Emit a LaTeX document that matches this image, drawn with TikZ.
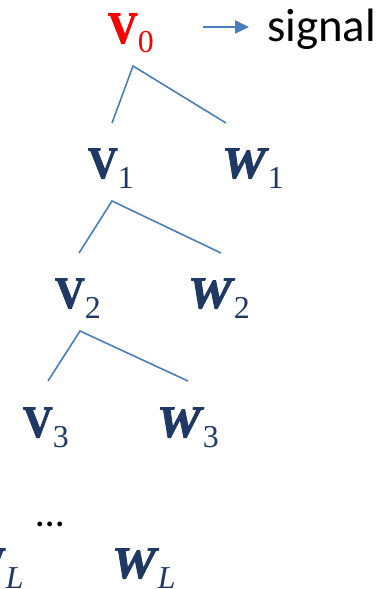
\documentclass[tikz,border=0pt]{standalone}
\usepackage{fontspec}
\usepackage{graphicx}
\setmainfont{Liberation Serif}
\newfontfamily\sansf{Carlito}
\usetikzlibrary{arrows.meta}
\definecolor{navy}{HTML}{1F3864}
\definecolor{lineblue}{HTML}{4A7EBB}
\newcommand{\bigsz}{\fontsize{45}{45}\selectfont}
\newcommand{\subsz}{\fontsize{32}{32}\selectfont}
\newcommand{\heavyon}{\special{pdf:literal direct 2 Tr 0.9 w}}
\newcommand{\heavyoff}{\special{pdf:literal direct 0 Tr}}
\newcommand{\Vlab}[1]{{\bigsz\bfseries\scalebox{0.92}[1]{\heavyon V\heavyoff}}\kern0bp\raisebox{-10bp}{\subsz #1}}
\newcommand{\Wlab}[1]{{\bigsz\bfseries\itshape\scalebox{1.1}[1]{\heavyon W\heavyoff}}\kern2bp\raisebox{-10bp}{\subsz #1}}
\tikzset{
  lab/.style={anchor=base west, inner sep=0pt, outer sep=0pt, text=navy},
  branch/.style={draw=lineblue, line width=1.6bp},
  arr/.style={draw=lineblue, line width=1.8bp, -{Triangle[length=14bp,width=13bp]}}
}
\begin{document}
\begin{tikzpicture}[x=1bp,y=-1bp]
\useasboundingbox (0,0) rectangle (387,589);
% labels
\node[lab, text=red] (v0) at (108,43) {\Vlab{0}};
\node[lab, text=black] (sig) at (267,42) {\sansf\fontsize{47}{47}\selectfont signal};
\node[lab] (v1) at (88,178) {\Vlab{1}};
\node[lab] (w1) at (222,178) {\Wlab{1}};
\node[lab] (v2) at (55,308) {\Vlab{2}};
\node[lab] (w2) at (188,308) {\Wlab{2}};
\node[lab] (v3) at (23,437) {\Vlab{3}};
\node[lab] (w3) at (157,437) {\Wlab{3}};
\node[lab, text=black] (dots) at (36,526) {\sansf\fontsize{40}{40}\selectfont …};
\node[lab] (vL) at (-24,578) {\Vlab{\itshape L}};
\node[lab] (wL) at (112,578) {\Wlab{\itshape L}};
% arrow
\coordinate (as) at (203,27);
\coordinate (ae) at (249,27);
\draw[arr] (as) -- (ae);
% branches
\coordinate (a0) at (133,66);
\coordinate (l1) at (112,123);
\coordinate (r1) at (226,123);
\coordinate (a1) at (112,201);
\coordinate (l2) at (79,253);
\coordinate (r2) at (221,253);
\coordinate (a2) at (80,331);
\coordinate (l3) at (48,381);
\coordinate (r3) at (188,381);
\draw[branch] (l1) -- (a0) -- (r1);
\draw[branch] (l2) -- (a1) -- (r2);
\draw[branch] (l3) -- (a2) -- (r3);
\end{tikzpicture}
\end{document}
